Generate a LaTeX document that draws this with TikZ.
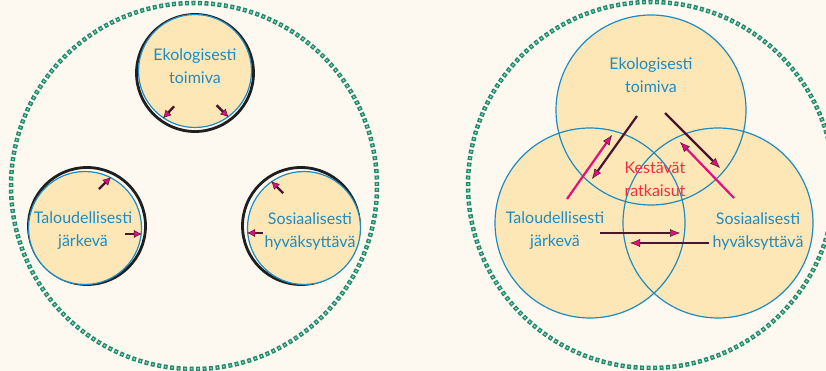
\documentclass[tikz,border=0pt]{standalone}
\usepackage{fontspec}
\setmainfont{Lato}
\usetikzlibrary{arrows.meta}
\definecolor{paper}{HTML}{FDF9F1}
\definecolor{sunfill}{HTML}{FDE7B6}
\definecolor{ringblue}{HTML}{1E8BC3}
\definecolor{dotgreen}{HTML}{1F8A6C}
\definecolor{dotlight}{HTML}{9FD3BF}
\definecolor{plum}{HTML}{4A1530}
\definecolor{rosehead}{HTML}{E0107E}
\definecolor{solred}{HTML}{EE3040}

\begin{document}
\begin{tikzpicture}[x=1pt, y=-1pt,
        every node/.style={inner sep=0pt},
        lbl/.style={align=center, font=\fontsize{16}{23}\selectfont, text=ringblue},
        dotring/.style={circle, draw=dotgreen, line width=4.5pt, minimum size=366pt,
            dash pattern=on 4pt off 2.5pt,
            postaction={draw=dotlight, line width=1.5pt, dash pattern=on 1.5pt off 5pt, dash phase=5.25pt}},
        blackring/.style={circle, draw=black!88, line width=2.8pt, minimum size=117pt},
        bluedisc/.style={circle, fill=sunfill, draw=ringblue, line width=1.2pt, minimum size=113pt},
        venn/.style={circle, fill=sunfill, minimum size=190pt},
        smallin/.style={plum, line width=2.4pt, {Latex[length=8pt, width=8pt, color=plum, fill=rosehead, line width=0.5pt]}-},
        darkarr/.style={plum, line width=2.2pt, -{Latex[length=10pt, width=8pt, color=plum, fill=rosehead, line width=0.5pt]}},
        rosearr/.style={rosehead, line width=2.2pt, -{Latex[length=10pt, width=8pt, color=plum, fill=rosehead, line width=0.5pt]}}
    ]
    \fill[paper] (0,0) rectangle (826,371);
    \useasboundingbox (0,0) rectangle (826,371);

    % left panel
    \node[dotring] (outerL) at (194,186) {};
    \node[blackring] (eko0) at (195,73) {};
    \node[bluedisc] (eko1) at (195,71) {};
    \node[blackring] (talo0) at (87,226) {};
    \node[bluedisc] (talo1) at (85,228) {};
    \node[blackring] (sos0) at (301,226) {};
    \node[bluedisc] (sos1) at (304,228) {};

    \node[lbl] (ekoL) at (195,66) {Ekologisesti\\toimiva};
    \node[lbl] (taloL) at (83,231) {Taloudellisesti\\järkevä};
    \node[lbl] (sosL) at (310,231) {Sosiaalisesti\\hyväksyttävä};

    \draw[smallin] (eko1.-124) -- ++(11,-12);
    \draw[smallin] (eko1.-54) -- ++(-12,-12);
    \draw[smallin] (talo1.63) -- ++(-12,12);
    \draw[smallin] (talo1.-6) -- ++(-17,0);
    \draw[smallin] (sos1.125) -- ++(12,12);
    \draw[smallin] (sos1.-175) -- ++(16,0);

    % right panel
    \node[dotring] (outerR) at (651,185) {};
    \node[venn] (vtop) at (651,110) {};
    \node[venn] (vleft) at (590,223) {};
    \node[venn] (vright) at (718,223) {};
    \foreach \v in {vtop,vleft,vright}
        \draw[ringblue, line width=1.2pt] (\v.center) circle (95pt);

    \node[lbl] (ekoR) at (651,75) {Ekologisesti\\toimiva};
    \node[lbl] (taloR) at (555,231) {Taloudellisesti\\järkevä};
    \node[lbl] (sosR) at (758,231) {Sosiaalisesti\\hyväksyttävä};
    \node[lbl, text=solred] (kest) at (655,179) {Kestävät\\ratkaisut};

    \coordinate (a1s) at (637,116); \coordinate (a1e) at (592,179);
    \coordinate (a2s) at (567,199); \coordinate (a2e) at (612,135);
    \coordinate (a3s) at (665,113); \coordinate (a3e) at (720,168);
    \coordinate (a4s) at (734,198); \coordinate (a4e) at (680,142);
    \coordinate (a5s) at (600,233); \coordinate (a5e) at (680,233);
    \coordinate (a6s) at (709,243); \coordinate (a6e) at (630,243);

    \draw[darkarr] (a1s) -- (a1e);
    \draw[rosearr] (a2s) -- (a2e);
    \draw[darkarr] (a3s) -- (a3e);
    \draw[rosearr] (a4s) -- (a4e);
    \draw[darkarr] (a5s) -- (a5e);
    \draw[darkarr] (a6s) -- (a6e);
\end{tikzpicture}
\end{document}
